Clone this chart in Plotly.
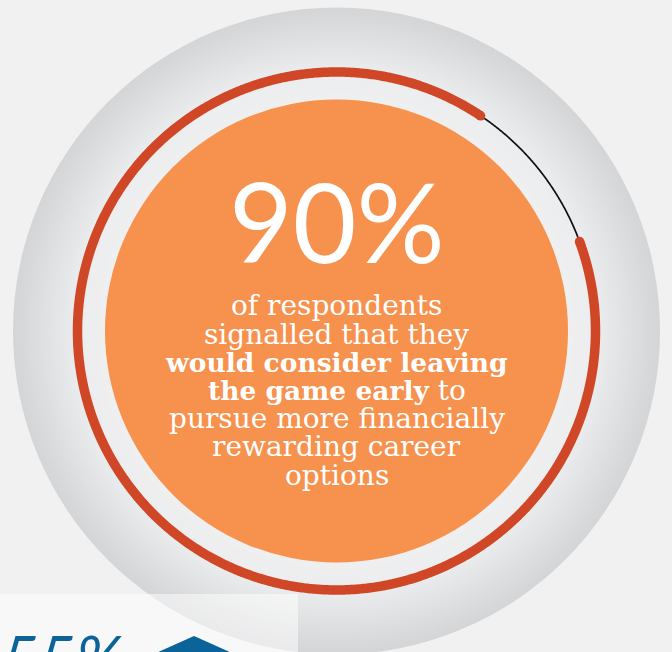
import numpy as np
import plotly.graph_objects as go

# ---------------- data ----------------
share_pct = 90                      # share of respondents (drives the red arc)
headline_label = "90%"
body_lines = [
    "of respondents",
    "signalled that they",
    "<b>would consider leaving</b>",
    "<b>the game early</b> to",
    "pursue more financially",
    "rewarding career",
    "options",
]
teaser_label = "55%"

# ---------------- styling ----------------
W, H = 672, 652
CX, CY = 336.5, 331.0
R_OUTER, R_RING, R_CORE = 323.5, 259.0, 231.5
ARC_START_DEG = 69.8          # clockwise from 12 o'clock
BG = "#F1F1F1"
RED = "#D04727"
ORANGE = "#F6914E"
BLUE = "#0B6399"
TEXT_TOP = 315.5              # baseline of first body line
LINE_STEP = 28.2


def arc_xy(r, a0, a1, n=500):
    t = np.radians(np.linspace(a0, a1, n))
    return CX + r * np.sin(t), CY - r * np.cos(t)


def lerp(c0, c1, f):
    return "rgb(%d,%d,%d)" % tuple(round(a + (b - a) * f) for a, b in zip(c0, c1))


shapes = []
# gray disc with radial gradient (concentric rings)
dark, light = (212, 213, 215), (236, 237, 238)
r = R_OUTER
while r > R_CORE:
    if r > R_RING:
        f = (R_OUTER - r) / (R_OUTER - R_RING)
        col = lerp(dark, light, min(f, 1))
    else:
        col = lerp(light, (239, 239, 240), (R_RING - r) / (R_RING - R_CORE))
    shapes.append(dict(type="circle", xref="x", yref="y", layer="below",
                       x0=CX - r, x1=CX + r, y0=CY - r, y1=CY + r,
                       fillcolor=col, line_width=0))
    r -= 1.5
# orange core
shapes.append(dict(type="circle", xref="x", yref="y", layer="below",
                   x0=CX - R_CORE, x1=CX + R_CORE, y0=CY - R_CORE, y1=CY + R_CORE,
                   fillcolor=ORANGE, line_width=0))

fig = go.Figure()
span = 360 * share_pct / 100
a0, a1 = ARC_START_DEG, ARC_START_DEG + span
gx, gy = arc_xy(R_RING, a1, a0 + 360, 150)
fig.add_trace(go.Scatter(x=gx, y=gy, mode="lines",
                         line=dict(color="#111111", width=1.7, simplify=False),
                         hoverinfo="skip"))
rx, ry = arc_xy(R_RING, a0, a1, 900)
fig.add_trace(go.Scatter(x=rx, y=ry, mode="lines",
                         line=dict(color=RED, width=9.5, simplify=False),
                         hoverinfo="skip"))
fig.add_trace(go.Scatter(x=[rx[0], rx[-1]], y=[ry[0], ry[-1]], mode="markers",
                         marker=dict(size=9.5, color=RED, line_width=0), hoverinfo="skip"))

# bottom teaser panel (partially visible next section)
shapes.append(dict(type="rect", xref="x", yref="y", layer="above",
                   x0=0, x1=298, y0=594, y1=H, fillcolor="rgba(255,255,255,0.5)", line_width=0))
shapes.append(dict(type="path", xref="x", yref="y", layer="above",
                   path="M 156 653 L 194 636 L 232 653 Z", fillcolor=BLUE, line_width=0))

annotations = [
    dict(x=CX, y=263 - 0.387 * 110, xref="x", yref="y", text=headline_label,
         showarrow=False, xanchor="center", yanchor="middle",
         font=dict(family="Lato", size=110, color="white", weight=400)),
]
for i, line in enumerate(body_lines):
    base = TEXT_TOP + i * LINE_STEP
    txt = line.replace("<b>", "<b><span style='font-size:26.5px'>").replace("</b>", "</span></b>")
    annotations.append(dict(x=CX, y=base - 9.7, xref="x", yref="y", text=txt,
                            showarrow=False, xanchor="center", yanchor="middle",
                            borderpad=0, borderwidth=0,
                            font=dict(family="DejaVu Serif", size=28, color="white")))
annotations.append(dict(x=0, y=640, xref="x", yref="y", text=teaser_label,
                        showarrow=False, xanchor="left", yanchor="middle", yshift=-17,
                        font=dict(family="Lato", size=64, color=BLUE, weight=400,
                                  style="italic")))

fig.update_layout(
    width=W, height=H, margin=dict(l=0, r=0, t=0, b=0),
    paper_bgcolor=BG, plot_bgcolor=BG, showlegend=False,
    xaxis=dict(range=[0, W], visible=False, fixedrange=True),
    yaxis=dict(range=[H, 0], visible=False, fixedrange=True),
    shapes=shapes, annotations=annotations,
)
fig.write_html("out.html")
